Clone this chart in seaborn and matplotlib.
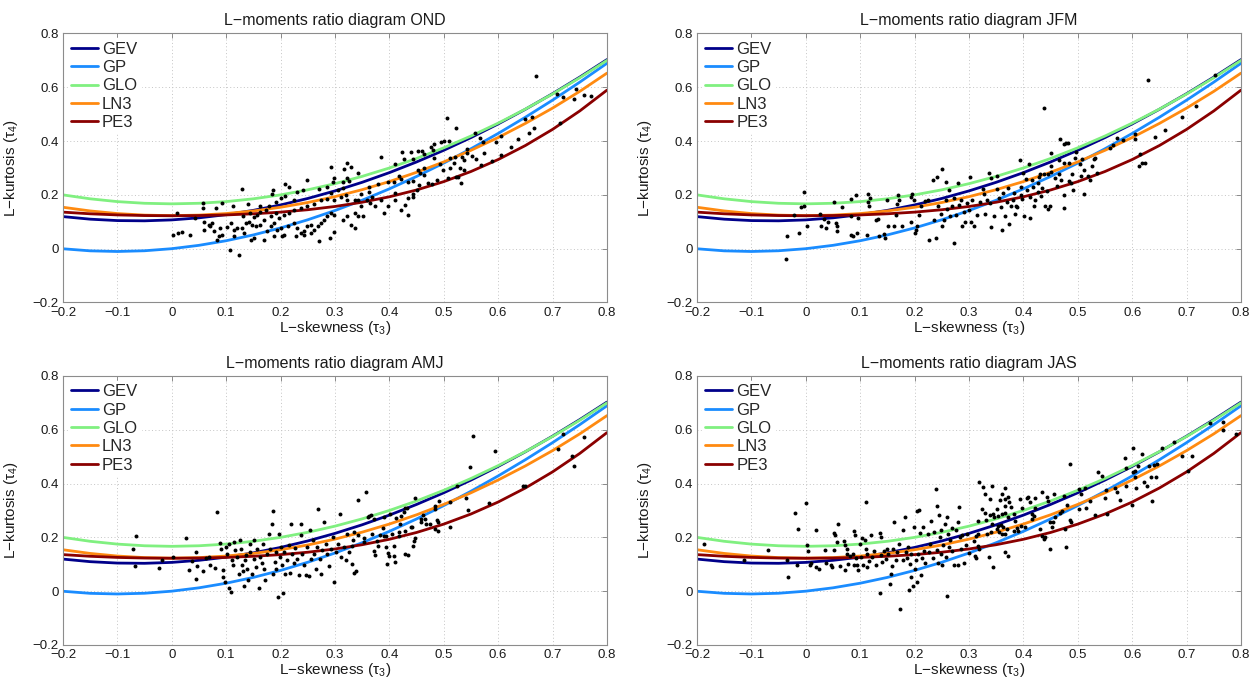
import matplotlib
matplotlib.use("Agg")
import matplotlib.pyplot as plt
from matplotlib.ticker import FuncFormatter, FixedLocator
import pandas as pd
import seaborn as sns

# ---------------------------------------------------------------------------
# Theoretical L-moment ratio curves (tau4 as a function of tau3)
# ---------------------------------------------------------------------------
tau3_grid = [-0.20, -0.15, -0.10, -0.05, 0.00, 0.05, 0.10, 0.15, 0.20, 0.25, 0.30,
             0.35, 0.40, 0.45, 0.50, 0.55, 0.60, 0.65, 0.70, 0.75, 0.80]
gev = [0.1193, 0.1097, 0.1045, 0.1036, 0.1070, 0.1147, 0.1265, 0.1425, 0.1626, 0.1867, 0.2148,
       0.2468, 0.2827, 0.3224, 0.3658, 0.4130, 0.4638, 0.5182, 0.5762, 0.6378, 0.7029]
gp = [-0.0003, -0.0080, -0.0104, -0.0077, 0.0000, 0.0125, 0.0296, 0.0512, 0.0772, 0.1075, 0.1418,
      0.1802, 0.2224, 0.2685, 0.3182, 0.3715, 0.4284, 0.4886, 0.5522, 0.6191, 0.6892]
glo = [0.2000, 0.1854, 0.1750, 0.1688, 0.1667, 0.1688, 0.1750, 0.1854, 0.2000, 0.2188, 0.2417,
       0.2688, 0.3000, 0.3354, 0.3750, 0.4188, 0.4667, 0.5188, 0.5750, 0.6354, 0.7000]
ln3 = [0.1540, 0.1403, 0.1306, 0.1248, 0.1228, 0.1248, 0.1306, 0.1403, 0.1540, 0.1717, 0.1935,
       0.2194, 0.2495, 0.2839, 0.3226, 0.3657, 0.4133, 0.4656, 0.5226, 0.5848, 0.6526]
pe3 = [0.1359, 0.1297, 0.1255, 0.1232, 0.1224, 0.1232, 0.1255, 0.1297, 0.1359, 0.1448, 0.1569,
       0.1727, 0.1929, 0.2182, 0.2493, 0.2869, 0.3314, 0.3835, 0.4435, 0.5120, 0.5894]

dist_names = ["GEV", "GP", "GLO", "LN3", "PE3"]
dist_colors = ["#00008a", "#1a8cff", "#80f080", "#ff8a10", "#8a0000"]

# ---------------------------------------------------------------------------
# Sample L-moment ratios (tau3, tau4) per season
# ---------------------------------------------------------------------------
ond_points = [
    (0.385, 0.342), (0.423, 0.358), (0.439, 0.361), (0.453, 0.364), (0.427, 0.332), (0.444, 0.332),
    (0.293, 0.305), (0.323, 0.317), (0.330, 0.303), (0.316, 0.296), (0.298, 0.262), (0.296, 0.249),
    (0.342, 0.283), (0.314, 0.249), (0.322, 0.262), (0.326, 0.253), (0.249, 0.256), (0.209, 0.241),
    (0.216, 0.228), (0.129, 0.222), (0.187, 0.219), (0.185, 0.204), (0.230, 0.212), (0.242, 0.219),
    (0.271, 0.221), (0.286, 0.228), (0.410, 0.314), (0.417, 0.270), (0.421, 0.258), (0.453, 0.293),
    (0.456, 0.280), (0.434, 0.247), (0.408, 0.248), (0.397, 0.247), (0.379, 0.241), (0.362, 0.228),
    (0.363, 0.209), (0.348, 0.204), (0.342, 0.182), (0.359, 0.182), (0.365, 0.169), (0.368, 0.194),
    (0.057, 0.169), (0.057, 0.153), (0.092, 0.168), (0.113, 0.159), (0.140, 0.165), (0.163, 0.157),
    (0.179, 0.157), (0.191, 0.175), (0.200, 0.188), (0.208, 0.196), (0.224, 0.182), (0.009, 0.131),
    (0.082, 0.151), (0.131, 0.122), (0.144, 0.132), (0.151, 0.117), (0.157, 0.126), (0.163, 0.135),
    (0.174, 0.144), (0.182, 0.122), (0.191, 0.132), (0.197, 0.114), (0.206, 0.126), (0.216, 0.132),
    (0.225, 0.144), (0.237, 0.151), (0.249, 0.159), (0.262, 0.167), (0.274, 0.182), (0.286, 0.184),
    (0.299, 0.182), (0.311, 0.194), (0.320, 0.200), (0.293, 0.206), (0.305, 0.219), (0.314, 0.225),
    (0.323, 0.182), (0.336, 0.182), (0.348, 0.157), (0.336, 0.132), (0.323, 0.120), (0.314, 0.107),
    (0.342, 0.120), (0.351, 0.120), (0.373, 0.157), (0.385, 0.182), (0.397, 0.157), (0.410, 0.182),
    (0.422, 0.144), (0.428, 0.163), (0.434, 0.126), (0.391, 0.132), (0.410, 0.206),
    (0.043, 0.114), (0.059, 0.101), (0.068, 0.089), (0.074, 0.095), (0.059, 0.068), (0.070, 0.085),
    (0.077, 0.064), (0.088, 0.077), (0.086, 0.046), (0.092, 0.052), (0.102, 0.080), (0.108, 0.095),
    (0.114, 0.070), (0.120, 0.077), (0.129, 0.077), (0.136, 0.095), (0.142, 0.101), (0.148, 0.089),
    (0.154, 0.083), (0.163, 0.089), (0.169, 0.107), (0.176, 0.064), (0.182, 0.083), (0.188, 0.095),
    (0.194, 0.070), (0.200, 0.077), (0.206, 0.052), (0.213, 0.083), (0.225, 0.095), (0.231, 0.077),
    (0.237, 0.058), (0.243, 0.064), (0.249, 0.083), (0.256, 0.089), (0.262, 0.070), (0.268, 0.083),
    (0.274, 0.095), (0.280, 0.107), (0.286, 0.120), (0.293, 0.132), (0.299, 0.126), (0.002, 0.052),
    (0.012, 0.058), (0.018, 0.062), (0.034, 0.052), (0.114, 0.046), (0.132, 0.058), (0.145, 0.033),
    (0.151, 0.040), (0.169, 0.033), (0.188, 0.046), (0.203, 0.048), (0.228, 0.046), (0.243, 0.052),
    (0.256, 0.058), (0.271, 0.027), (0.290, 0.040), (0.299, 0.061), (0.330, 0.089), (0.336, 0.077),
    (0.107, -0.006), (0.123, -0.022), (0.083, 0.031),
    (0.669, 0.643), (0.709, 0.575), (0.720, 0.564), (0.743, 0.595), (0.739, 0.557), (0.758, 0.573),
    (0.771, 0.567), (0.714, 0.468), (0.650, 0.483), (0.662, 0.490), (0.665, 0.449), (0.656, 0.431),
    (0.636, 0.409), (0.605, 0.419), (0.596, 0.398), (0.623, 0.379), (0.605, 0.347), (0.589, 0.326),
    (0.568, 0.310), (0.557, 0.431), (0.567, 0.412), (0.573, 0.398), (0.574, 0.357), (0.560, 0.335),
    (0.506, 0.486), (0.523, 0.449), (0.500, 0.400), (0.495, 0.398), (0.509, 0.400), (0.482, 0.388),
    (0.480, 0.367), (0.460, 0.363), (0.463, 0.351), (0.477, 0.379), (0.482, 0.338), (0.494, 0.314),
    (0.512, 0.338), (0.521, 0.342), (0.534, 0.341), (0.542, 0.357), (0.543, 0.369), (0.552, 0.344),
    (0.537, 0.330), (0.518, 0.320), (0.512, 0.301), (0.530, 0.301), (0.537, 0.291), (0.499, 0.291),
    (0.463, 0.301), (0.463, 0.273), (0.471, 0.246), (0.478, 0.240), (0.488, 0.256), (0.508, 0.262),
    (0.522, 0.268), (0.526, 0.267), (0.531, 0.243), (0.454, 0.236), (0.451, 0.218), (0.435, 0.190),
    (0.443, 0.202), (0.444, 0.194), (0.444, 0.252),
]

jfm_points = [
    (-0.037, -0.038), (-0.035, 0.046), (-0.012, 0.058), (-0.021, 0.126), (-0.003, 0.209), (-0.008, 0.154),
    (-0.004, 0.157), (0.002, 0.085), (0.026, 0.130), (0.028, 0.083), (0.034, 0.110), (0.037, 0.077),
    (0.041, 0.098), (0.052, 0.172), (0.055, 0.095), (0.058, 0.083), (0.057, 0.064), (0.067, 0.154),
    (0.083, 0.184), (0.084, 0.122), (0.084, 0.052), (0.086, 0.046), (0.092, 0.200), (0.094, 0.060),
    (0.096, 0.114), (0.115, 0.202), (0.115, 0.175), (0.116, 0.157), (0.118, 0.188), (0.113, 0.052),
    (0.129, 0.105), (0.132, 0.110), (0.135, 0.046), (0.144, 0.056), (0.145, 0.040), (0.149, 0.181),
    (0.151, 0.083), (0.162, 0.085), (0.165, 0.126), (0.170, 0.200), (0.171, 0.181), (0.176, 0.083),
    (0.168, 0.167), (0.193, 0.101), (0.196, 0.202), (0.194, 0.194), (0.199, 0.181), (0.200, 0.060),
    (0.202, 0.070), (0.205, 0.083), (0.208, 0.126), (0.211, 0.157), (0.219, 0.178), (0.224, 0.181),
    (0.226, 0.031), (0.233, 0.256), (0.236, 0.105), (0.241, 0.265), (0.240, 0.040), (0.251, 0.296),
    (0.243, 0.157), (0.248, 0.130), (0.251, 0.083), (0.254, 0.107), (0.257, 0.249), (0.257, 0.181),
    (0.260, 0.147), (0.263, 0.219), (0.266, 0.120), (0.269, 0.157), (0.273, 0.188), (0.273, 0.023),
    (0.276, 0.126), (0.279, 0.243), (0.282, 0.163), (0.285, 0.181), (0.288, 0.085), (0.290, 0.135),
    (0.292, 0.101), (0.297, 0.169), (0.300, 0.144), (0.302, 0.265), (0.304, 0.101), (0.306, 0.181),
    (0.309, 0.083), (0.315, 0.126), (0.321, 0.175), (0.325, 0.221), (0.328, 0.204), (0.329, 0.130),
    (0.334, 0.181), (0.337, 0.280), (0.339, 0.169), (0.340, 0.262), (0.341, 0.080), (0.346, 0.120),
    (0.351, 0.221), (0.352, 0.270), (0.355, 0.188), (0.358, 0.154), (0.361, 0.070), (0.363, 0.206),
    (0.366, 0.120), (0.369, 0.175), (0.372, 0.225), (0.373, 0.093), (0.377, 0.157), (0.380, 0.181),
    (0.383, 0.206), (0.384, 0.130), (0.386, 0.157), (0.389, 0.154), (0.394, 0.330), (0.395, 0.228),
    (0.396, 0.200), (0.398, 0.184), (0.400, 0.283), (0.401, 0.122), (0.404, 0.258), (0.407, 0.219),
    (0.410, 0.315), (0.412, 0.194), (0.412, 0.114), (0.416, 0.256), (0.418, 0.228), (0.421, 0.181),
    (0.426, 0.209), (0.429, 0.268), (0.419, 0.157), (0.427, 0.246),
    (0.629, 0.626), (0.753, 0.647), (0.437, 0.523), (0.718, 0.530), (0.692, 0.490), (0.661, 0.441),
    (0.642, 0.415), (0.606, 0.428), (0.606, 0.406), (0.583, 0.404), (0.572, 0.410), (0.564, 0.384),
    (0.560, 0.373), (0.614, 0.351), (0.618, 0.320), (0.612, 0.307), (0.623, 0.320), (0.468, 0.406),
    (0.474, 0.391), (0.478, 0.394), (0.482, 0.394), (0.451, 0.354), (0.497, 0.360), (0.494, 0.336),
    (0.465, 0.330), (0.474, 0.317), (0.483, 0.317), (0.504, 0.314), (0.508, 0.332), (0.512, 0.291),
    (0.526, 0.307), (0.529, 0.335), (0.532, 0.338), (0.536, 0.283), (0.523, 0.256), (0.519, 0.270),
    (0.506, 0.270), (0.489, 0.277), (0.488, 0.246), (0.483, 0.252), (0.492, 0.219), (0.511, 0.205),
    (0.470, 0.254), (0.466, 0.277), (0.474, 0.199), (0.474, 0.151), (0.451, 0.307), (0.431, 0.277),
    (0.437, 0.277), (0.446, 0.277), (0.451, 0.285), (0.458, 0.264), (0.461, 0.233), (0.443, 0.215),
    (0.432, 0.196), (0.440, 0.159), (0.446, 0.147), (0.449, 0.159), (0.434, 0.227),
]

amj_points = [
    (-0.066, 0.204), (-0.071, 0.158), (-0.067, 0.093), (-0.023, 0.087), (-0.018, 0.115), (0.002, 0.127),
    (0.027, 0.199), (0.045, 0.146), (0.044, 0.047), (0.031, 0.078), (0.037, 0.111), (0.046, 0.093),
    (0.058, 0.075), (0.063, 0.125), (0.068, 0.127), (0.070, 0.099), (0.083, 0.295), (0.080, 0.088),
    (0.088, 0.179), (0.090, 0.158), (0.095, 0.078), (0.094, 0.051), (0.098, 0.034), (0.100, 0.164),
    (0.101, 0.140), (0.105, 0.177), (0.108, -0.003), (0.106, 0.010), (0.111, 0.115), (0.113, 0.096),
    (0.115, 0.183), (0.117, 0.152), (0.120, 0.127), (0.123, 0.065), (0.125, 0.192), (0.127, 0.158),
    (0.129, 0.096), (0.131, 0.075), (0.133, 0.018), (0.135, 0.115), (0.137, 0.134), (0.138, 0.084),
    (0.141, 0.041), (0.143, 0.177), (0.144, 0.146), (0.148, 0.065), (0.151, 0.192), (0.152, 0.118),
    (0.154, 0.090), (0.157, 0.158), (0.160, 0.013), (0.163, 0.127), (0.166, 0.103), (0.168, 0.177),
    (0.170, 0.081), (0.172, 0.041), (0.175, 0.137), (0.178, 0.214), (0.181, 0.158), (0.184, 0.251),
    (0.186, 0.298), (0.186, 0.065), (0.189, 0.109), (0.191, 0.146), (0.192, 0.081), (0.195, -0.021),
    (0.197, 0.214), (0.199, 0.127), (0.201, 0.164), (0.203, 0.096), (0.205, -0.006), (0.207, 0.146),
    (0.209, 0.063), (0.212, 0.115), (0.215, 0.171), (0.218, 0.068), (0.219, 0.251), (0.221, 0.140),
    (0.224, 0.103), (0.227, 0.162), (0.230, 0.121), (0.234, 0.059), (0.237, 0.208), (0.238, 0.249),
    (0.240, 0.140), (0.243, 0.096), (0.246, 0.059), (0.249, 0.164), (0.252, 0.055), (0.255, 0.227),
    (0.256, 0.121), (0.260, 0.192), (0.262, 0.137), (0.266, 0.084), (0.267, 0.164), (0.269, 0.307),
    (0.272, 0.118), (0.275, 0.063), (0.277, 0.152), (0.280, 0.258), (0.283, 0.177), (0.286, 0.140),
    (0.289, 0.093), (0.292, 0.158), (0.297, 0.202), (0.298, 0.034), (0.301, 0.146), (0.305, 0.177),
    (0.310, 0.286), (0.312, 0.127), (0.316, 0.164), (0.320, 0.115), (0.323, 0.214), (0.326, 0.146),
    (0.554, 0.575), (0.595, 0.520), (0.549, 0.463), (0.720, 0.586), (0.758, 0.574), (0.710, 0.528),
    (0.735, 0.501), (0.740, 0.464), (0.646, 0.390), (0.649, 0.390), (0.583, 0.328), (0.541, 0.345),
    (0.544, 0.303), (0.525, 0.390), (0.511, 0.330), (0.511, 0.240), (0.492, 0.336), (0.483, 0.315),
    (0.483, 0.305), (0.490, 0.256), (0.490, 0.225), (0.488, 0.266), (0.483, 0.231), (0.474, 0.250),
    (0.468, 0.250), (0.465, 0.268), (0.458, 0.268), (0.458, 0.258), (0.461, 0.283), (0.447, 0.345),
    (0.447, 0.197), (0.446, 0.188), (0.443, 0.169), (0.442, 0.237), (0.439, 0.237), (0.434, 0.135),
    (0.433, 0.308), (0.429, 0.308), (0.429, 0.138), (0.428, 0.225), (0.426, 0.296), (0.422, 0.281),
    (0.420, 0.250), (0.417, 0.221), (0.418, 0.206), (0.412, 0.271), (0.411, 0.107), (0.409, 0.132),
    (0.408, 0.169), (0.404, 0.213), (0.402, 0.287), (0.399, 0.132), (0.398, 0.142), (0.396, 0.101),
    (0.394, 0.163), (0.394, 0.206), (0.391, 0.275), (0.390, 0.206), (0.388, 0.234), (0.383, 0.209),
    (0.380, 0.169), (0.377, 0.188), (0.374, 0.135), (0.372, 0.151), (0.371, 0.268), (0.369, 0.213),
    (0.366, 0.283), (0.363, 0.278), (0.360, 0.275), (0.357, 0.370), (0.354, 0.182), (0.353, 0.197),
    (0.343, 0.340), (0.342, 0.209), (0.339, 0.076), (0.335, 0.068), (0.335, 0.219), (0.334, 0.192),
    (0.331, 0.101), (0.332, 0.169),
]

jas_points = [
    (-0.187, 0.177), (-0.113, 0.117), (-0.069, 0.152), (-0.033, 0.051), (-0.035, 0.117), (-0.020, 0.291),
    (-0.015, 0.230), (-0.017, 0.096), (0.000, 0.326), (0.003, 0.171), (0.004, 0.150), (0.008, 0.096),
    (0.010, 0.103), (0.018, 0.229), (0.018, 0.090), (0.024, 0.084), (0.035, 0.152), (0.038, 0.103),
    (0.046, 0.096), (0.051, 0.152), (0.052, 0.217), (0.053, 0.208), (0.049, 0.090), (0.058, 0.183),
    (0.059, 0.249), (0.063, 0.093), (0.070, 0.187), (0.072, 0.171), (0.072, 0.078), (0.075, 0.158),
    (0.076, 0.140), (0.078, 0.100), (0.081, 0.130), (0.086, 0.140), (0.088, 0.224), (0.089, 0.096),
    (0.090, 0.208), (0.092, 0.125), (0.095, 0.096), (0.096, 0.080), (0.100, 0.177), (0.101, 0.127),
    (0.103, 0.196), (0.106, 0.096), (0.108, 0.189), (0.110, 0.332), (0.110, 0.155), (0.112, 0.140),
    (0.113, 0.090), (0.116, 0.113), (0.119, 0.208), (0.122, 0.127), (0.125, 0.150), (0.129, 0.096),
    (0.137, 0.217), (0.137, -0.006), (0.138, 0.134), (0.139, 0.202), (0.141, 0.109), (0.144, 0.150),
    (0.147, 0.121), (0.149, 0.158), (0.151, 0.140), (0.154, 0.028), (0.157, 0.065), (0.159, 0.093),
    (0.161, 0.158), (0.163, 0.258), (0.165, 0.115), (0.168, 0.146), (0.171, 0.177), (0.174, -0.065),
    (0.178, 0.227), (0.179, 0.117), (0.182, 0.274), (0.184, 0.146), (0.186, 0.125), (0.188, 0.165),
    (0.190, 0.006), (0.192, 0.100), (0.193, 0.051), (0.194, 0.140), (0.198, 0.018), (0.199, 0.239),
    (0.200, 0.084), (0.202, 0.115), (0.204, 0.034), (0.205, 0.297), (0.206, 0.140), (0.208, 0.303),
    (0.210, 0.217), (0.211, 0.059), (0.214, 0.125), (0.216, 0.239), (0.217, 0.150), (0.220, 0.103),
    (0.224, 0.214), (0.227, 0.146), (0.228, 0.177), (0.231, 0.261), (0.233, 0.125), (0.236, 0.220),
    (0.239, 0.378), (0.241, 0.152), (0.242, 0.316), (0.243, 0.103), (0.245, 0.282), (0.247, 0.202),
    (0.248, 0.140), (0.249, 0.229), (0.251, 0.096), (0.253, 0.171), (0.255, 0.249), (0.257, 0.127),
    (0.259, 0.276), (0.260, -0.019), (0.262, 0.214), (0.263, 0.165), (0.266, 0.192), (0.268, 0.233),
    (0.269, 0.150), (0.273, 0.096), (0.276, 0.227), (0.279, 0.096), (0.280, 0.258), (0.282, 0.313),
    (0.284, 0.202), (0.286, 0.158), (0.288, 0.209), (0.291, 0.103), (0.294, 0.171), (0.297, 0.213),
    (0.300, 0.142),
    (0.318, 0.404), (0.326, 0.386), (0.342, 0.390), (0.366, 0.382), (0.361, 0.361), (0.329, 0.361),
    (0.338, 0.343), (0.357, 0.340), (0.366, 0.343), (0.371, 0.349), (0.374, 0.333), (0.366, 0.318),
    (0.378, 0.312), (0.351, 0.305), (0.323, 0.305), (0.329, 0.291), (0.338, 0.283), (0.345, 0.287),
    (0.346, 0.274), (0.353, 0.278), (0.360, 0.287), (0.366, 0.291), (0.372, 0.274), (0.317, 0.262),
    (0.332, 0.266), (0.342, 0.250), (0.354, 0.244), (0.359, 0.246), (0.363, 0.237), (0.369, 0.231),
    (0.351, 0.231), (0.355, 0.221), (0.360, 0.213), (0.366, 0.213), (0.340, 0.219), (0.334, 0.213),
    (0.317, 0.213), (0.312, 0.204), (0.310, 0.188), (0.316, 0.169), (0.318, 0.157), (0.311, 0.132),
    (0.312, 0.122), (0.337, 0.126), (0.345, 0.089), (0.366, 0.147), (0.372, 0.132), (0.382, 0.225),
    (0.388, 0.234), (0.391, 0.225), (0.396, 0.244), (0.385, 0.262), (0.382, 0.287), (0.397, 0.308),
    (0.394, 0.343),
    (0.743, 0.627), (0.767, 0.630), (0.767, 0.599), (0.791, 0.584), (0.677, 0.555), (0.655, 0.532),
    (0.692, 0.503), (0.710, 0.501), (0.703, 0.448), (0.602, 0.531), (0.586, 0.496), (0.618, 0.510),
    (0.589, 0.459), (0.606, 0.448), (0.601, 0.442), (0.605, 0.423), (0.611, 0.464), (0.631, 0.464),
    (0.640, 0.469), (0.646, 0.473), (0.634, 0.423), (0.643, 0.423), (0.622, 0.407), (0.588, 0.390),
    (0.607, 0.382), (0.628, 0.390), (0.637, 0.334), (0.599, 0.320), (0.578, 0.340), (0.572, 0.367),
    (0.569, 0.382), (0.551, 0.377), (0.550, 0.345), (0.554, 0.287), (0.531, 0.283), (0.538, 0.444),
    (0.545, 0.429), (0.486, 0.473), (0.503, 0.380), (0.505, 0.361), (0.514, 0.382), (0.523, 0.336),
    (0.515, 0.308), (0.502, 0.305), (0.488, 0.256), (0.486, 0.266), (0.480, 0.320), (0.474, 0.352),
    (0.471, 0.299), (0.468, 0.291), (0.457, 0.361), (0.458, 0.274), (0.455, 0.256), (0.452, 0.237),
    (0.449, 0.256), (0.443, 0.349), (0.445, 0.335), (0.440, 0.200), (0.437, 0.194), (0.435, 0.367),
    (0.431, 0.231), (0.422, 0.345), (0.422, 0.308), (0.420, 0.281), (0.415, 0.287), (0.415, 0.268),
    (0.412, 0.330), (0.409, 0.349), (0.406, 0.345), (0.403, 0.237), (0.478, 0.166), (0.449, 0.157),
    (0.434, 0.204), (0.477, 0.231),
]

seasons = ["OND", "JFM", "AMJ", "JAS"]
season_points = [ond_points, jfm_points, amj_points, jas_points]

x_ticks = [-0.2, -0.1, 0.0, 0.1, 0.2, 0.3, 0.4, 0.5, 0.6, 0.7, 0.8]
y_ticks = [-0.2, 0.0, 0.2, 0.4, 0.6, 0.8]

# ---------------------------------------------------------------------------
# Styling
# ---------------------------------------------------------------------------
sns.set_theme(style="white")
plt.rcParams["font.family"] = ["Liberation Sans", "DejaVu Sans"]
plt.rcParams["mathtext.default"] = "regular"
plt.rcParams["axes.unicode_minus"] = True

curves = pd.DataFrame({
    "tau3": tau3_grid * 5,
    "tau4": gev + gp + glo + ln3 + pe3,
    "dist": [d for d in dist_names for _ in tau3_grid],
})
palette = dict(zip(dist_names, dist_colors))


def tick_fmt(v, _pos):
    v = round(v, 2)
    if v == 0:
        return "0"
    return f"{v:g}".replace("-", "\u2212")


fig = plt.figure(figsize=(12.59, 6.79), dpi=100)
fig.patch.set_facecolor("white")
ax_w, ax_h = 0.4321, 0.3962
positions = [
    [0.0500, 0.5545, ax_w, ax_h],
    [0.5536, 0.5545, ax_w, ax_h],
    [0.0500, 0.0501, ax_w, ax_h],
    [0.5536, 0.0501, ax_w, ax_h],
]

for pos, season, pts in zip(positions, seasons, season_points):
    ax = fig.add_axes(pos)
    sns.lineplot(data=curves, x="tau3", y="tau4", hue="dist", hue_order=dist_names,
                 palette=palette, sort=False, estimator=None, linewidth=2.0, ax=ax)
    t3 = [p[0] for p in pts]
    t4 = [p[1] for p in pts]
    sns.scatterplot(x=t3, y=t4, color="black", s=8, linewidth=0, ax=ax,
                    zorder=4, legend=False)

    ax.set_xlim(-0.2, 0.8)
    ax.set_ylim(-0.2, 0.8)
    ax.xaxis.set_major_locator(FixedLocator(x_ticks))
    ax.yaxis.set_major_locator(FixedLocator(y_ticks))
    ax.xaxis.set_major_formatter(FuncFormatter(tick_fmt))
    ax.yaxis.set_major_formatter(FuncFormatter(tick_fmt))
    ax.tick_params(direction="in", length=3.5, width=0.6, top=True, right=True,
                   labelsize=9.5, colors="#7a7a7a", labelcolor="#1a1a1a", pad=3)
    ax.grid(True, linestyle=(0, (1, 2.5)), linewidth=0.7, color="#c4c4c4")
    ax.set_axisbelow(True)
    for sp in ax.spines.values():
        sp.set_color("#8c8c8c")
        sp.set_linewidth(0.8)

    ax.set_title(f"L\u2212moments ratio diagram {season}", fontsize=11.5,
                 color="#1a1a1a", pad=6)
    ax.set_xlabel("L\u2212skewness (\u03c4$_3$)", fontsize=11, color="#1a1a1a", labelpad=0)
    ax.set_ylabel("L\u2212kurtosis (\u03c4$_4$)", fontsize=11, color="#1a1a1a", labelpad=9)

    handles, labels = ax.get_legend_handles_labels()
    leg = ax.legend(handles, labels, loc="upper left", fontsize=12, frameon=True,
                    facecolor="white", edgecolor="white", framealpha=1.0,
                    handlelength=1.6, handletextpad=0.25, labelspacing=0.2,
                    borderaxespad=0.3, borderpad=0.2, fancybox=False)
    for line in leg.get_lines():
        line.set_linewidth(2.0)

fig.savefig("out.png", dpi=100, facecolor="white")
